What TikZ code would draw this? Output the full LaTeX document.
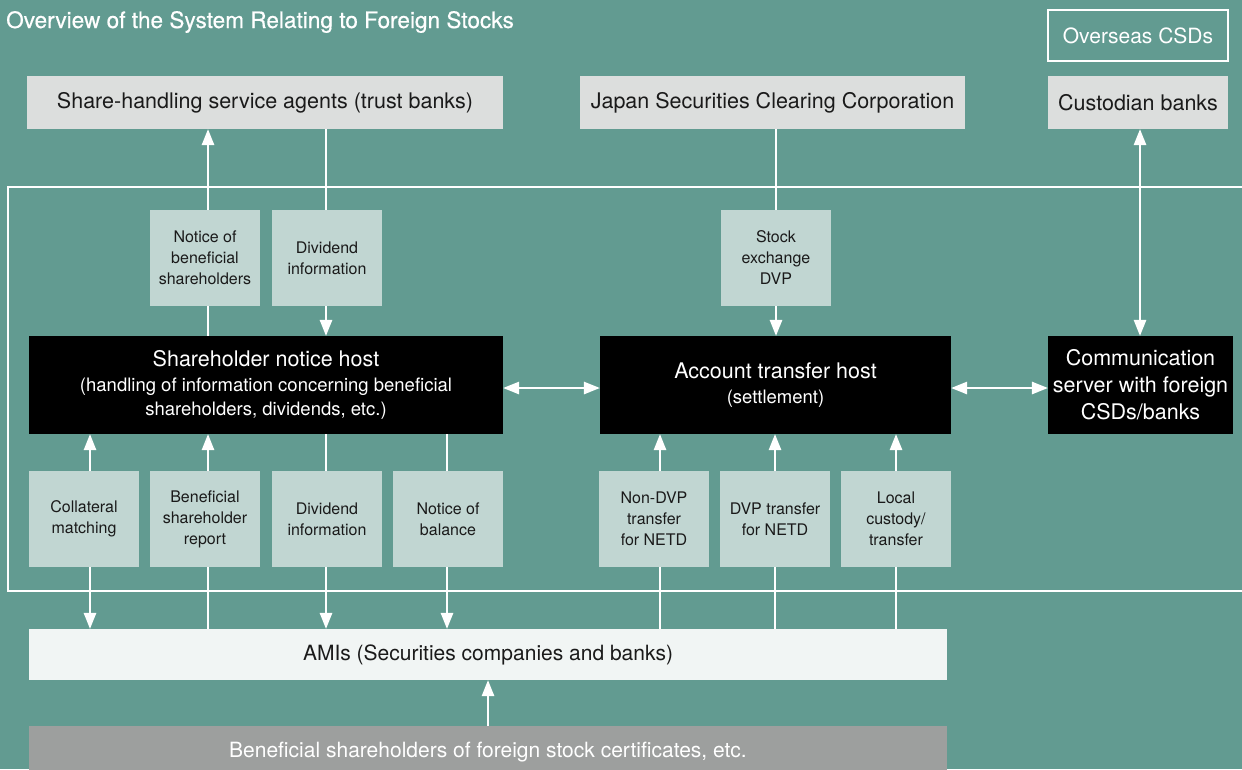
\documentclass[tikz,border=0pt]{standalone}
\usepackage{fontspec}
\setmainfont{TeX Gyre Heros}
\newfontfamily\headfont[FakeBold=0.5]{TeX Gyre Heros}
\usetikzlibrary{arrows.meta}
\definecolor{bg}{HTML}{629B91}
\definecolor{boxgray}{HTML}{DCDEDD}
\definecolor{lbl}{HTML}{C1D6D2}
\definecolor{amis}{HTML}{F1F5F4}
\definecolor{owner}{HTML}{9D9F9E}
\definecolor{ink}{HTML}{1A1A1A}
\begin{document}
\begin{tikzpicture}[x=1pt,y=-1pt,
  entity/.style={fill=boxgray,text=ink,inner sep=0pt,minimum height=53pt,
    font=\fontsize{21.5}{26}\selectfont},
  host/.style={fill=black,text=white,inner sep=0pt,minimum height=98pt,align=center,
    font=\fontsize{18.5}{24.5}\selectfont},
  info/.style={fill=lbl,text=ink,inner sep=0pt,minimum width=110pt,minimum height=96pt,
    align=center,font=\fontsize{16}{21}\selectfont},
  band/.style={inner sep=0pt,minimum width=918pt,font=\fontsize{21}{26}\selectfont},
  link/.style={draw=white,line width=1.4pt},
  arr/.style={link,-{Triangle[width=12.5pt,length=16pt]}},
  darr/.style={link,{Triangle[width=12.5pt,length=16pt]}-{Triangle[width=12.5pt,length=16pt]}},
]
% canvas
\fill[bg] (0,0) rectangle (1242,769);
\useasboundingbox (0,0) rectangle (1242,769);

% title
\node[anchor=base west,text=white,inner sep=0pt,font=\headfont\fontsize{22.6}{26}\selectfont]
  (title) at (6,28) {Overview of the System Relating to Foreign Stocks};

% frame around the system
\draw[white,line width=1.3pt] (1250,187) -- (8,187) -- (8,591) -- (1250,591);

% outside parties
\node[draw=white,line width=1.2pt,text=white,inner sep=0pt,minimum width=180pt,
  minimum height=51pt,font=\fontsize{21}{26}\selectfont] (overseas) at (1138,35.5) {Overseas CSDs};
\node[entity,minimum width=476pt] (agents) at (265,102.5) {Share-handling service agents (trust banks)};
\node[entity,minimum width=385pt] (jscc) at (772.5,102.5) {Japan Securities Clearing Corporation};
\node[entity,minimum width=180pt] (cust) at (1138,102.5) {Custodian banks};

% upper data items
\node[info] (n1) at (205,258) {Notice of\\beneficial\\shareholders};
\node[info] (n2) at (327,258) {Dividend\\information};
\node[info] (sdvp) at (776,258) {Stock\\exchange\\DVP};

% hosts
\node[host,minimum width=474pt] (snh) at (266,385)
  {{\fontsize{21.5}{24.5}\selectfont Shareholder notice host}\\
   (handling of information concerning beneficial\\shareholders, dividends, etc.)};
\node[host,minimum width=351pt] (ath) at (775.5,385)
  {{\fontsize{21.5}{24.5}\selectfont Account transfer host}\\(settlement)};
\node[host,minimum width=185pt,font=\fontsize{21.5}{27}\selectfont] (comm) at (1140.5,385)
  {Communication\\server with foreign\\CSDs/banks};

% lower data items
\node[info] (b1) at (84,519) {Collateral\\matching};
\node[info] (b2) at (205,519) {Beneficial\\shareholder\\report};
\node[info] (b3) at (327,519) {Dividend\\information};
\node[info] (b4) at (448,519) {Notice of\\balance};
\node[info] (b5) at (654,519) {Non-DVP\\transfer\\for NETD};
\node[info] (b6) at (775,519) {DVP transfer\\for NETD};
\node[info] (b7) at (896,519) {Local\\custody/\\transfer};

% participants and owners
\node[band,fill=amis,text=ink,minimum height=51pt] (ami) at (488,654.5) {AMIs (Securities companies and banks)};
\node[band,fill=owner,text=white,minimum height=52pt] (bsh) at (488,752) {Beneficial shareholders of foreign stock certificates, etc.};

% connector columns and rows
\coordinate (cA) at (90,0);
\coordinate (cB) at (208,0);
\coordinate (cC) at (326,0);
\coordinate (cD) at (447,0);
\coordinate (cE) at (660,0);
\coordinate (cF) at (775,0);
\coordinate (cG) at (896,0);
\coordinate (cH) at (776,0);
\coordinate (cI) at (1140,0);
\coordinate (cJ) at (488,0);
\coordinate (rH) at (0,388);

% upper connectors
\draw[link] (snh.north -| cB) -- (n1.south -| cB);
\draw[arr] (n1.north -| cB) -- (agents.south -| cB);
\draw[link] (agents.south -| cC) -- (n2.north -| cC);
\draw[arr] (n2.south -| cC) -- (snh.north -| cC);
\draw[link] (jscc.south -| cH) -- (sdvp.north -| cH);
\draw[arr] (sdvp.south -| cH) -- (ath.north -| cH);
\draw[darr] (cust.south -| cI) -- (comm.north -| cI);

% host to host
\draw[darr] (snh.east |- rH) -- (ath.west |- rH);
\draw[darr] (ath.east |- rH) -- (comm.west |- rH);

% lower connectors
\draw[arr] (b1.north -| cA) -- (snh.south -| cA);
\draw[arr] (b1.south -| cA) -- (ami.north -| cA);
\draw[arr] (b2.north -| cB) -- (snh.south -| cB);
\draw[link] (b2.south -| cB) -- (ami.north -| cB);
\draw[link] (snh.south -| cC) -- (b3.north -| cC);
\draw[arr] (b3.south -| cC) -- (ami.north -| cC);
\draw[link] (snh.south -| cD) -- (b4.north -| cD);
\draw[arr] (b4.south -| cD) -- (ami.north -| cD);
\draw[link] (ami.north -| cE) -- (b5.south -| cE);
\draw[arr] (b5.north -| cE) -- (ath.south -| cE);
\draw[link] (ami.north -| cF) -- (b6.south -| cF);
\draw[arr] (b6.north -| cF) -- (ath.south -| cF);
\draw[link] (ami.north -| cG) -- (b7.south -| cG);
\draw[arr] (b7.north -| cG) -- (ath.south -| cG);
\draw[arr] (bsh.north -| cJ) -- (ami.south -| cJ);
\end{tikzpicture}
\end{document}
